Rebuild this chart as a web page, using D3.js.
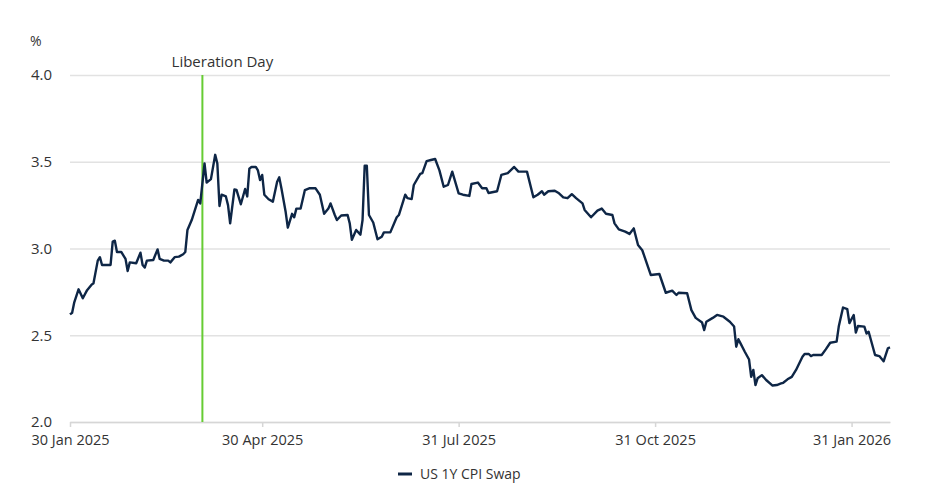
<!DOCTYPE html>
<html>
<head>
<meta charset="utf-8">
<script src="https://cdn.jsdelivr.net/npm/d3@7"></script>
<style>
  body { margin: 0; background: #fff; }
  svg text { font-family: "Open Sans", sans-serif; fill: #333; }
</style>
</head>
<body>
<div class="chart-container"></div>
<script>
//! DATA
const dates = [
  '2025-01-30','2025-01-31','2025-02-01','2025-02-03','2025-02-05','2025-02-07','2025-02-09','2025-02-10','2025-02-12','2025-02-13',
  '2025-02-14','2025-02-18','2025-02-19','2025-02-20','2025-02-21','2025-02-23','2025-02-25','2025-02-26','2025-02-27',
  '2025-03-02','2025-03-04','2025-03-05','2025-03-06','2025-03-07','2025-03-10','2025-03-12','2025-03-13','2025-03-15','2025-03-17',
  '2025-03-18','2025-03-20','2025-03-22','2025-03-24','2025-03-25','2025-03-26','2025-03-28','2025-03-31',
  '2025-04-01','2025-04-03','2025-04-04','2025-04-06','2025-04-08','2025-04-09','2025-04-10','2025-04-11','2025-04-13','2025-04-14',
  '2025-04-15','2025-04-17','2025-04-18','2025-04-20','2025-04-22','2025-04-23','2025-04-24','2025-04-25','2025-04-27','2025-04-28',
  '2025-04-29','2025-04-30',
  '2025-05-01','2025-05-03','2025-05-05','2025-05-07','2025-05-08','2025-05-09','2025-05-11','2025-05-12','2025-05-14','2025-05-15',
  '2025-05-16','2025-05-18','2025-05-20','2025-05-22','2025-05-25','2025-05-27','2025-05-29','2025-05-31',
  '2025-06-01','2025-06-03','2025-06-04','2025-06-06','2025-06-09','2025-06-10','2025-06-11','2025-06-13','2025-06-15','2025-06-16',
  '2025-06-17','2025-06-18','2025-06-19','2025-06-21','2025-06-23','2025-06-25','2025-06-26','2025-06-29',
  '2025-07-02','2025-07-03','2025-07-06','2025-07-07','2025-07-09','2025-07-10','2025-07-13','2025-07-14','2025-07-16','2025-07-18',
  '2025-07-20','2025-07-22','2025-07-24','2025-07-26','2025-07-28','2025-07-31',
  '2025-08-02','2025-08-05','2025-08-06','2025-08-09','2025-08-11','2025-08-13','2025-08-14','2025-08-18','2025-08-20','2025-08-23',
  '2025-08-26','2025-08-28',
  '2025-09-01','2025-09-04','2025-09-06','2025-09-08','2025-09-09','2025-09-11','2025-09-14','2025-09-16','2025-09-18','2025-09-20',
  '2025-09-22','2025-09-24','2025-09-27','2025-09-28',
  '2025-10-01','2025-10-04','2025-10-06','2025-10-08','2025-10-11','2025-10-12','2025-10-14','2025-10-17','2025-10-19','2025-10-21',
  '2025-10-23','2025-10-25','2025-10-29',
  '2025-11-02','2025-11-05','2025-11-08','2025-11-10','2025-11-11','2025-11-15','2025-11-17','2025-11-19','2025-11-22','2025-11-23',
  '2025-11-24','2025-11-27','2025-11-29',
  '2025-12-02','2025-12-05','2025-12-07','2025-12-08','2025-12-09','2025-12-10','2025-12-12','2025-12-14','2025-12-15','2025-12-16',
  '2025-12-17','2025-12-18','2025-12-20','2025-12-22','2025-12-25','2025-12-27','2025-12-29','2025-12-30',
  '2026-01-01','2026-01-03','2026-01-05','2026-01-08','2026-01-09','2026-01-11','2026-01-12','2026-01-13','2026-01-17','2026-01-19',
  '2026-01-21','2026-01-24','2026-01-25','2026-01-27','2026-01-29','2026-01-30',
  '2026-02-01','2026-02-02','2026-02-03','2026-02-06','2026-02-07','2026-02-08','2026-02-11','2026-02-13','2026-02-15','2026-02-17',
  '2026-02-18'
]

const swapValues = [
  2.62, 2.63, 2.69, 2.765, 2.713, 2.76, 2.79, 2.80, 2.93, 2.95,
  2.905, 2.905, 3.04, 3.045, 2.98, 2.98, 2.94, 2.87, 2.92,
  2.915, 2.976, 2.905, 2.89, 2.93, 2.934, 2.995, 2.94, 2.93, 2.93,
  2.92, 2.95, 2.953, 2.967, 2.98, 3.107, 3.164, 3.28,
  3.26, 3.49, 3.38, 3.40, 3.54, 3.49, 3.245, 3.31, 3.30, 3.25,
  3.145, 3.34, 3.337, 3.255, 3.343, 3.30, 3.46, 3.47, 3.47, 3.45,
  3.395, 3.424,
  3.31, 3.284, 3.27, 3.385, 3.41, 3.347, 3.21, 3.12, 3.20, 3.18,
  3.23, 3.23, 3.337, 3.347, 3.347, 3.31, 3.20, 3.23,
  3.26, 3.193, 3.164, 3.19, 3.193, 3.145, 3.05, 3.107, 3.08, 3.164,
  3.477, 3.477, 3.193, 3.15, 3.053, 3.068, 3.093, 3.093,
  3.18, 3.193, 3.31, 3.29, 3.285, 3.366, 3.43, 3.434, 3.504, 3.51,
  3.516, 3.45, 3.356, 3.366, 3.443, 3.318,
  3.31, 3.303, 3.372, 3.38, 3.347, 3.347, 3.32, 3.33, 3.424, 3.434,
  3.47, 3.443,
  3.443, 3.295, 3.31, 3.33, 3.31, 3.33, 3.333, 3.318, 3.295, 3.29,
  3.313, 3.29, 3.26, 3.222,
  3.18, 3.218, 3.23, 3.20, 3.193, 3.145, 3.11, 3.097, 3.084, 3.116,
  3.02, 2.99, 2.847,
  2.853, 2.745, 2.757, 2.732, 2.745, 2.742, 2.645, 2.60, 2.573, 2.53,
  2.578, 2.60, 2.617,
  2.607, 2.578, 2.55, 2.434, 2.477, 2.453, 2.405, 2.36, 2.26, 2.30,
  2.213, 2.252, 2.27, 2.242, 2.21, 2.213, 2.222, 2.226,
  2.246, 2.26, 2.30, 2.376, 2.392, 2.392, 2.38, 2.386, 2.386, 2.42,
  2.457, 2.463, 2.55, 2.66, 2.65, 2.57,
  2.617, 2.515, 2.553, 2.55, 2.51, 2.52, 2.386, 2.38, 2.35, 2.425,
  2.43
]

const xTickDates = ['2025-01-30', '2025-04-30', '2025-07-31', '2025-10-31', '2026-01-31']
const xTickLabels = ['30 Jan 2025', '30 Apr 2025', '31 Jul 2025', '31 Oct 2025', '31 Jan 2026']
const yTicks = [2.0, 2.5, 3.0, 3.5, 4.0]
const xDomain = ['2025-01-30', '2026-02-18']
const eventDate = '2025-04-02'
const eventLabel = 'Liberation Day'
const seriesName = 'US 1Y CPI Swap'

//! CONSTS
const width = 939
const height = 498
const margin = { top: 75, right: 49, bottom: 76, left: 70 }
const lineColor = '#0e2646'
const gridColor = '#e2e2e2'

const parse = d3.timeParse('%Y-%m-%d')
const dataset = dates.map((d, i) => ({ date: parse(d), value: swapValues[i] }))

//! SVG
const svg =
  d3.select('.chart-container')
    .append('svg')
    .attr('width', width)
    .attr('height', height)

//! SCALES
const xScale =
  d3.scaleTime()
    .domain(xDomain.map(parse))
    .range([margin.left, width - margin.right])

const yScale =
  d3.scaleLinear()
    .domain([2, 4])
    .range([height - margin.bottom, margin.top])

//! AXES
const yAxis =
  d3.axisLeft(yScale)
    .tickValues(yTicks)
    .tickFormat(d3.format('.1f'))
    .tickSize(-(width - margin.left - margin.right))
    .tickPadding(18)

svg.append('g')
  .attr('transform', `translate(${margin.left},0)`)
  .call(yAxis)
  .call(g => g.select('.domain').remove())
  .call(g => g.selectAll('.tick line')
    .attr('stroke', gridColor)
    .attr('stroke-width', 1.5))
  .call(g => g.selectAll('.tick text')
    .attr('font-size', 15)
    .attr('fill', '#333'))

const xAxis =
  d3.axisBottom(xScale)
    .tickValues(xTickDates.map(parse))
    .tickFormat((d, i) => xTickLabels[i])
    .tickSize(5)
    .tickSizeOuter(0)
    .tickPadding(8)

svg.append('g')
  .attr('transform', `translate(0,${height - margin.bottom})`)
  .call(xAxis)
  .call(g => g.select('.domain')
    .attr('stroke', '#d6d6d6')
    .attr('stroke-width', 1.5))
  .call(g => g.selectAll('.tick line')
    .attr('stroke', '#d6d6d6')
    .attr('stroke-width', 1.5))
  .call(g => g.selectAll('.tick text')
    .attr('font-size', 14.5)
    .attr('fill', '#333'))

// unit label
svg.append('text')
  .attr('x', 30)
  .attr('y', 46)
  .attr('font-size', 14)
  .text('%')

//! EVENT LINE
const eventX = xScale(parse(eventDate))
svg.append('line')
  .attr('x1', eventX)
  .attr('x2', eventX)
  .attr('y1', margin.top)
  .attr('y2', height - margin.bottom)
  .attr('stroke', '#66cc33')
  .attr('stroke-width', 2)

svg.append('text')
  .attr('x', eventX + 20)
  .attr('y', 67)
  .attr('text-anchor', 'middle')
  .attr('font-size', 15)
  .text(eventLabel)

//! LINE
const line =
  d3.line()
    .x(d => xScale(d.date))
    .y(d => yScale(d.value))

svg.append('path')
  .datum(dataset)
  .attr('fill', 'none')
  .attr('stroke', lineColor)
  .attr('stroke-width', 2.4)
  .attr('stroke-linejoin', 'round')
  .attr('d', line)

//! LEGEND
const legend = svg.append('g')
  .attr('transform', `translate(398, 474)`)

legend.append('line')
  .attr('x1', 0)
  .attr('x2', 14)
  .attr('stroke', lineColor)
  .attr('stroke-width', 3)

legend.append('text')
  .attr('x', 22)
  .attr('dy', '0.35em')
  .attr('font-size', 14)
  .text(seriesName)
</script>
</body>
</html>
